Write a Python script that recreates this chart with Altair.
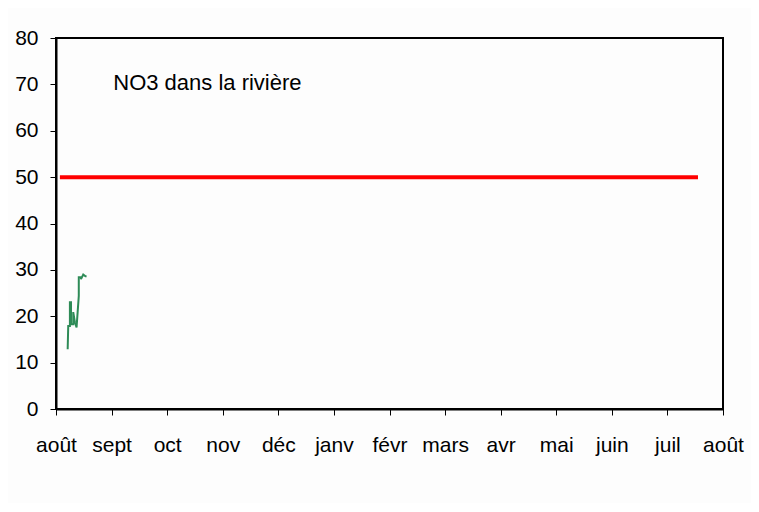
import altair as alt
import pandas as pd

months = ["août", "sept", "oct", "nov", "déc", "janv", "févr", "mars", "avr", "mai", "juin", "juil", "août"]
month_pos = list(range(len(months)))

# NO3 measurements (x in months from start of August, mg/L)
no3_x = [0.21, 0.22, 0.25, 0.25, 0.27, 0.27, 0.31, 0.31, 0.34, 0.37, 0.37, 0.41, 0.41, 0.45, 0.45, 0.49, 0.53, 0.55]
no3_y = [12.9, 17.9, 17.9, 23.0, 23.0, 18.3, 18.3, 20.9, 18.7, 17.6, 17.6, 24.4, 28.4, 28.4, 28.0, 29.0, 28.6, 28.6]

limit_x = [0.07, 11.55]
limit_y = [50, 50]

label_text = ["NO3 dans la rivière"]
label_x = [1.03]
label_y = [70.3]

df_no3 = pd.DataFrame({"x": no3_x, "y": no3_y, "order": list(range(len(no3_x)))})
df_lim = pd.DataFrame({"x": limit_x, "y": limit_y})
df_lab = pd.DataFrame({"x": label_x, "y": label_y, "t": label_text})

label_expr = "[" + ",".join(f"'{m}'" for m in months) + "][datum.value]"

x_scale = alt.Scale(domain=[0, 12], nice=False, zero=False)
y_scale = alt.Scale(domain=[0, 80], nice=False)

x_axis = alt.Axis(values=month_pos, labelExpr=label_expr, title=None, grid=False,
                  domainColor="black", domainWidth=2, tickColor="black", tickSize=6,
                  labelFont="Liberation Sans", labelFontSize=21, labelColor="black",
                  labelPadding=19, labelOverlap=False, labelFlush=False)
y_axis = alt.Axis(values=list(range(0, 81, 10)), title=None, grid=False,
                  domainColor="black", domainWidth=2, tickColor="black", tickSize=6,
                  labelFont="Liberation Sans", labelFontSize=21, labelColor="black",
                  labelPadding=12)

lim = alt.Chart(df_lim).mark_line(color="#ff0000", strokeWidth=4).encode(
    x=alt.X("x:Q", scale=x_scale, axis=x_axis),
    y=alt.Y("y:Q", scale=y_scale, axis=y_axis),
)

no3 = alt.Chart(df_no3).mark_line(color="#2e8b57", strokeWidth=2).encode(
    x=alt.X("x:Q", scale=x_scale),
    y=alt.Y("y:Q", scale=y_scale),
    order="order:Q",
)

txt = alt.Chart(df_lab).mark_text(align="left", baseline="middle", font="Liberation Sans",
                                  fontSize=22, color="black").encode(
    x=alt.X("x:Q", scale=x_scale),
    y=alt.Y("y:Q", scale=y_scale),
    text="t:N",
)

chart = alt.layer(lim, no3, txt).properties(
    width=667, height=371,
    autosize=alt.AutoSizeParams(type="none"),
    padding={"left": 48, "top": 30, "right": 28, "bottom": 94},
    background="#fdfdfd",
).configure_view(stroke="black", strokeWidth=2)

chart.save("out.html", embed_options={"renderer": "svg", "actions": False})
